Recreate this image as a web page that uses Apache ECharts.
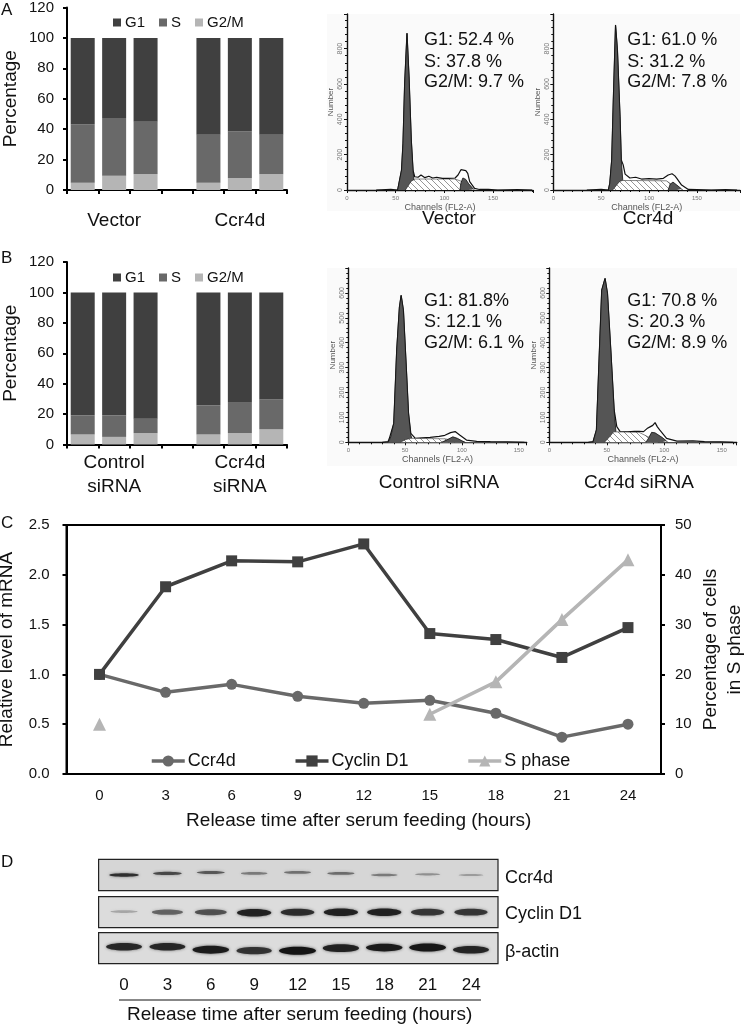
<!DOCTYPE html>
<html><head><meta charset="utf-8">
<script src="https://cdn.jsdelivr.net/npm/echarts@6/dist/echarts.min.js"></script>
<style>html,body{margin:0;padding:0;background:#fff}#c{width:745px;height:1024px}</style></head>
<body><div id="c"></div>
<script>
// Panel A / B stacked bars (blank category separates groups)
const aCats = ['', 'Vector', '', '', '', 'Ccr4d', ''];
const aG2M = [4.8, 9.4, 10.3, null, 4.8, 7.9, 10.3];
const aS   = [38.5, 37.9, 34.6, null, 31.5, 30.8, 26.0];
const aG1  = [56.7, 52.7, 55.1, null, 63.7, 61.3, 63.7];
const bCats = ['', 'Control\nsiRNA', '', '', '', 'Ccr4d\nsiRNA', ''];
const bG2M = [6.6, 5.0, 7.5, null, 6.6, 7.5, 10.0];
const bS   = [12.6, 14.2, 9.5, null, 19.0, 19.9, 19.6];
const bG1  = [80.8, 80.8, 83.0, null, 74.4, 72.6, 70.4];
// Panel C
const hours = ['0','3','6','9','12','15','18','21','24'];
const ccr4dLine = [1.0, 0.82, 0.90, 0.78, 0.71, 0.74, 0.61, 0.37, 0.50];
const cyclinLine = [1.0, 1.88, 2.14, 2.13, 2.31, 1.41, 1.35, 1.17, 1.47];
const sPhaseLine = [10, null, null, null, null, 12, 18.5, 31, 43];
// Flow histograms: [channel, count]
const f1Total = [[30,0],[45,3],[52,0],[53.4,9],[56,113],[57.5,264],[59.2,600],[61.6,887],[63.7,640],[66,283],[67.8,113],[69.5,75],[73,72],[76,85],[80,70],[84,78],[88,68],[92,72],[98,66],[104,66],[111,68],[114,85],[117,115],[119,122],[122,110],[124,94],[126,47],[131,9],[136,3],[145,4],[155,0],[175,2],[190,0]];
const f1G1 = [[52,0],[53.4,9],[56,113],[57.5,264],[59.2,600],[61.6,887],[63.7,640],[66,283],[67.8,113],[69,40],[71,0]];
const f1S = [[60,0],[66,50],[70,62],[111,62],[117,50],[122,30],[128,0]];
const f1G2 = [[116,0],[117,40],[119,68],[122,60],[125,35],[130,4],[131,0]];
const f2Total = [[35,0],[50,3],[57.5,0],[59,38],[61,170],[62.7,510],[65,934],[67,790],[69.7,415],[71,170],[73,142],[75,90],[77,95],[80,68],[86,72],[92,62],[100,64],[108,62],[115,66],[120,85],[124,92],[127,80],[129,66],[134,28],[141,3],[150,2],[165,0],[180,2],[192,0]];
const f2G1 = [[57.5,0],[59,38],[61,170],[62.7,510],[65,934],[67,790],[69.7,415],[71,170],[72.5,60],[74,0]];
const f2S = [[62,0],[69,47],[72,54],[118,52],[124,30],[130,0]];
const f2G2 = [[120,0],[122,32],[125,45],[129,28],[134,6],[135,0]];
const f3Total = [[30,0],[35,3],[36,14],[37,16],[40,76],[42.6,370],[45,543],[46.5,590],[48.5,530],[51,303],[53,116],[55,36],[59,16],[65,18],[72,20],[80,24],[85,28],[90,39],[94,43],[98,29],[104,9],[113,4],[125,3],[140,2],[155,0]];
const f3G1 = [[35,0],[37,16],[40,76],[42.6,370],[45,543],[46.5,590],[48.5,530],[51,303],[53,116],[55,30],[57,0]];
const f3S = [[46,0],[50,10],[55,16],[85,14],[95,5],[100,0]];
const f3G2 = [[82,0],[86,8],[92,22],[96,16],[100,6],[103,0]];
const f4Total = [[34,0],[38,3],[41,50],[43.6,370],[45.6,611],[48.5,658],[50.6,598],[53.5,370],[56.4,130],[58.7,63],[61.6,43],[68,42],[74,44],[78,44],[82,43],[85,55],[88,63],[90,68],[92,79],[94,62],[96,50],[102,16],[111,5],[125,6],[135,3],[149,2],[160,0]];
const f4G1 = [[38,0],[41,50],[43.6,370],[45.6,611],[48.5,658],[50.6,598],[53.5,370],[56.4,130],[58,40],[60,0]];
const f4S = [[48,0],[53,25],[56,42],[78,40],[92,8],[95,0]];
const f4G2 = [[84,0],[86,14],[89,40],[92,38],[98,20],[102,5],[103,0]];
// Flow texts
const flowA = ['G1: 52.4 %','S: 37.8 %','G2/M: 9.7 %'];
const flowB = ['G1: 61.0 %','S: 31.2 %','G2/M: 7.8 %'];
const flowC = ['G1: 81.8%','S: 12.1 %','G2/M: 6.1 %'];
const flowD = ['G1: 70.8 %','S: 20.3 %','G2/M: 8.9 %'];
// Blot lanes: band strength (0-1) and level inside the strip (0-1)
const laneHours = [0,3,6,9,12,15,18,21,24];
const ccr4dBand  = [0.85,0.7,0.62,0.42,0.48,0.5,0.42,0.28,0.2];
const cyclinBand = [0.14,0.55,0.65,0.92,0.85,0.92,0.92,0.8,0.8];
const actinBand  = [0.88,0.88,0.95,0.82,1,0.92,0.95,0.98,0.9];
const ccr4dLevel  = [0.5,0.45,0.42,0.45,0.42,0.45,0.5,0.48,0.5];
const cyclinLevel = [0.48,0.5,0.5,0.52,0.5,0.5,0.5,0.5,0.5];
const actinLevel  = [0.45,0.45,0.55,0.58,0.58,0.5,0.48,0.48,0.55];

const FF = '"Liberation Sans",Arial,sans-serif';
const DARK='#404040', MID='#696969', LIGHT='#b5b5b5';

function hatch(){
  const c=document.createElement('canvas');c.width=c.height=6;
  const g=c.getContext('2d');g.fillStyle='#fff';g.fillRect(0,0,6,6);
  g.strokeStyle='#8a8a8a';g.lineWidth=0.9;
  g.beginPath();g.moveTo(0,0);g.lineTo(6,6);g.moveTo(-3,3);g.lineTo(3,9);g.moveTo(3,-3);g.lineTo(9,3);g.stroke();
  return c;
}
const hatchImg = hatch();

const grid=[],xAxis=[],yAxis=[],series=[],legend=[],gfx=[];
function txt(t,x,y,size,align,rot,color){
  gfx.push({type:'text',x:x,y:y,rotation:rot||0,z:50,style:{text:t,font:size+'px '+FF,fill:color||'#111',textAlign:align||'left',textVerticalAlign:'middle'}});
}
function barPanel(top,cats,g2,s,g1,legendTop,catMargin){
  const gi=grid.length, xi=xAxis.length, yi=yAxis.length;
  grid.push({left:67,top:top,width:220,height:182.5,outerBoundsMode:'none'});
  xAxis.push({gridIndex:gi,type:'category',data:cats,
    axisLine:{lineStyle:{color:'#000',width:2}},axisTick:{show:true,length:4,alignWithLabel:false,interval:0,lineStyle:{color:'#000',width:2}},
    axisLabel:{interval:0,margin:catMargin,fontSize:19,fontFamily:FF,color:'#111',lineHeight:24},splitLine:{show:false}});
  yAxis.push({gridIndex:gi,type:'value',min:0,max:120,interval:20,name:'Percentage',nameLocation:'middle',nameGap:47,nameMoveOverlap:false,
    nameTextStyle:{fontSize:19,fontFamily:FF,color:'#111'},
    axisLine:{show:true,lineStyle:{color:'#000',width:2}},axisTick:{show:true,length:4,lineStyle:{color:'#000',width:2}},
    axisLabel:{fontSize:15,fontFamily:FF,color:'#111',margin:13},splitLine:{show:false}});
  [['G2/M',g2,LIGHT],['S',s,MID],['G1',g1,DARK]].forEach(d=>{
    series.push({type:'bar',name:d[0],xAxisIndex:xi,yAxisIndex:yi,stack:'s'+gi,data:d[1],barWidth:24,itemStyle:{color:d[2]}});
  });
  legend.push({left:113,top:legendTop,padding:0,data:['G1','S','G2/M'],icon:'rect',itemWidth:8,itemHeight:8,itemGap:14,selectedMode:false,
    textStyle:{fontSize:15,fontFamily:FF,color:'#111',padding:[0,0,0,-1]}});
}
barPanel(7.5,aCats,aG2M,aS,aG1,15,19);
barPanel(262,bCats,bG2M,bS,bG1,270,6);

// Panel C
(function(){
  const gi=grid.length, xi=xAxis.length;
  grid.push({left:66.5,top:525,width:594.5,height:249,outerBoundsMode:'none',show:true,borderColor:'#000',borderWidth:2,backgroundColor:'transparent'});
  xAxis.push({gridIndex:gi,type:'category',data:hours,name:'Release time after serum feeding (hours)',nameLocation:'middle',nameGap:37,
    nameTextStyle:{fontSize:19,fontFamily:FF,color:'#111',padding:[0,10,0,0]},
    axisLine:{lineStyle:{color:'#000',width:2}},axisTick:{length:4,interval:0,lineStyle:{color:'#000',width:2}},
    axisLabel:{fontSize:15,fontFamily:FF,color:'#111',margin:14},splitLine:{show:false}});
  const common={gridIndex:gi,type:'value',nameLocation:'middle',nameMoveOverlap:false,nameTextStyle:{fontSize:19,fontFamily:FF,color:'#111',lineHeight:24},
    axisLine:{show:true,lineStyle:{color:'#000',width:2}},axisTick:{show:true,length:4,lineStyle:{color:'#000',width:2}},splitLine:{show:false}};
  const left=yAxis.length;
  yAxis.push(Object.assign({},common,{min:0,max:2.5,interval:0.5,name:'Relative level of mRNA',nameGap:48,
    axisLabel:{fontSize:15,fontFamily:FF,color:'#111',margin:17,formatter:v=>v.toFixed(1)}}));
  const right=yAxis.length;
  yAxis.push(Object.assign({},common,{min:0,max:50,interval:10,position:'right',name:'Percentage of cells\nin S phase',nameGap:38,nameRotate:90,
    axisLabel:{fontSize:15,fontFamily:FF,color:'#111',margin:14}}));
  const line=(n,d,c,sym,sz,yi)=>series.push({type:'line',name:n,xAxisIndex:xi,yAxisIndex:yi,data:d,connectNulls:false,
    symbol:sym,symbolSize:sz,showAllSymbol:true,lineStyle:{color:c,width:3.5},itemStyle:{color:c}});
  line('Ccr4d',ccr4dLine,MID,'circle',11,left);
  line('Cyclin D1',cyclinLine,DARK,'rect',11,left);
  line('S phase',sPhaseLine,LIGHT,'triangle',13,right);
  legend.push({left:150,top:752,padding:0,data:['Ccr4d','Cyclin D1','S phase'],itemWidth:33,itemHeight:14,itemGap:58,selectedMode:false,
    lineStyle:{width:3.5},
    textStyle:{fontSize:18,fontFamily:FF,color:'#111',padding:[0,0,0,-2]}});
})();

// Flow panels
function flowPanel(b,total,g1,s,g2,notes,cap,notesX,notesYs,capX,capY){
  gfx.push({type:'rect',shape:{x:b.bgL,y:b.top,width:b.bgW,height:b.bgH},z:-1,style:{fill:'#fafafa'}});
  const gi=grid.length, xi=xAxis.length, yi=yAxis.length;
  grid.push({left:b.left,top:b.top,width:b.w,height:b.h,outerBoundsMode:'none'});
  xAxis.push({gridIndex:gi,type:'value',min:0,max:b.xmax,interval:50,name:'Channels (FL2-A)',nameLocation:'middle',nameGap:13,
    nameTextStyle:{fontSize:9,fontFamily:FF,color:'#555'},
    axisLine:{lineStyle:{color:'#111',width:1.4}},axisTick:{length:3,lineStyle:{color:'#111',width:1}},
    minorTick:{show:true,splitNumber:5,length:2,lineStyle:{color:'#111',width:1}},
    axisLabel:{fontSize:6,fontFamily:FF,color:'#777',margin:5,hideOverlap:true,showMaxLabel:false},splitLine:{show:false},minorSplitLine:{show:false}});
  yAxis.push({gridIndex:gi,type:'value',min:0,max:b.ymax,interval:b.yi,name:'Number',nameLocation:'middle',nameGap:12,
    nameTextStyle:{fontSize:8,fontFamily:FF,color:'#555'},
    axisLine:{show:true,lineStyle:{color:'#111',width:1.4}},axisTick:{show:true,length:3,lineStyle:{color:'#111',width:1}},
    minorTick:{show:true,splitNumber:5,length:2,lineStyle:{color:'#111',width:1}},
    axisLabel:{fontSize:7,fontFamily:FF,color:'#777',rotate:90,margin:3,showMaxLabel:false},splitLine:{show:false},minorSplitLine:{show:false}});
  const add=(d,fill,lw,z)=>series.push({type:'line',xAxisIndex:xi,yAxisIndex:yi,data:d,showSymbol:false,silent:true,z:z,
    lineStyle:{color:'#111',width:lw},areaStyle:{color:fill,opacity:1}});
  add(total,'#ffffff',1.2,2);
  add(g1,'#555555',0.8,3);
  add(s,{image:hatchImg,repeat:'repeat'},0.5,4);
  add(g2,'#555555',0.8,5);
  notes.forEach((t,i)=>txt(t,notesX,notesYs[i],18,'left'));
  txt(cap,capX,capY,19,'center');
}
flowPanel({left:347,top:14,w:186,h:176,xmax:191,ymax:996,yi:200,bgL:327,bgW:206,bgH:197},f1Total,f1G1,f1S,f1G2,flowA,'Vector',424,[40,62,82],449,219);
flowPanel({left:553.3,top:14,w:186.7,h:176,xmax:195,ymax:996,yi:200,bgL:533,bgW:207,bgH:197},f2Total,f2G1,f2S,f2G2,flowB,'Ccr4d',627.3,[40,62,82],648,219);
flowPanel({left:348.3,top:268,w:178.4,h:174.3,xmax:157,ymax:700,yi:100,bgL:327,bgW:200,bgH:198},f3Total,f3G1,f3S,f3G2,flowC,'Control siRNA',424,[301,322,343],439,483);
flowPanel({left:549.3,top:268,w:187.4,h:174.3,xmax:163,ymax:700,yi:100,bgL:527,bgW:210,bgH:198},f4Total,f4G1,f4S,f4G2,flowD,'Ccr4d siRNA',627.3,[301,322,343],639,483);

// Blot strips
function blotPanel(top,height,strength,level,label,labelY,bg,bandW,thin,thick){
  const gi=grid.length, xi=xAxis.length, yi=yAxis.length;
  grid.push({left:98.6,top:top,width:399.4,height:height,outerBoundsMode:'none',show:true,borderColor:'#222',borderWidth:1.2,backgroundColor:bg});
  xAxis.push({gridIndex:gi,type:'value',min:-1.76,max:25.87,show:false});
  yAxis.push({gridIndex:gi,type:'value',min:0,max:1,show:false,inverse:true});
  series.push({type:'custom',xAxisIndex:xi,yAxisIndex:yi,silent:true,clip:true,
    encode:{x:0,y:1},
    data:laneHours.map((h,i)=>[h,level[i],strength[i]]),
    renderItem:function(params,api){
      const p=api.coord([api.value(0),api.value(1)]), v=api.value(2);
      const g=Math.round(120-100*v);
      return {type:'ellipse',shape:{cx:p[0],cy:p[1],rx:bandW/2*(0.75+0.25*v),ry:thin+(thick-thin)*v},
        style:{fill:'rgba('+g+','+g+','+g+','+(0.35+0.65*v)+')',shadowBlur:3,shadowColor:'rgba('+g+','+g+','+g+','+(0.5*v+0.2)+')'}};
    }});
  txt(label,505,labelY,18,'left');
}
blotPanel(859.3,31.4,ccr4dBand,ccr4dLevel,'Ccr4d',878,'#d6d6d6',31,0.9,1.9);
blotPanel(896.7,31,cyclinBand,cyclinLevel,'Cyclin D1',914,'#dcdcdc',35,1,4);
blotPanel(932.7,31,actinBand,actinLevel,'β-actin',952,'#dcdcdc',37,2,4);

// Lane hour labels
(function(){
  const gi=grid.length;
  grid.push({left:102.3,top:966,width:390.6,height:8,outerBoundsMode:'none'});
  xAxis.push({gridIndex:gi,type:'category',data:hours,name:'Release time after serum feeding (hours)',nameLocation:'middle',nameGap:31,
    nameTextStyle:{fontSize:19,fontFamily:FF,color:'#111',padding:[0,0,0,4]},
    axisLine:{show:false},axisTick:{show:false},axisLabel:{fontSize:17,fontFamily:FF,color:'#111',margin:3,interval:0}});
  yAxis.push({gridIndex:gi,type:'value',show:false});
})();
gfx.push({type:'line',shape:{x1:119,y1:1000,x2:481,y2:1000},z:40,style:{stroke:'#111',lineWidth:1}});

txt('A',1,10,17);txt('B',1,258,17);txt('C',1,523,17);txt('D',1,862,17);

const chart=echarts.init(document.getElementById('c'),null,{renderer:'canvas'});
chart.setOption({animation:false,backgroundColor:'#fff',grid,xAxis,yAxis,series,legend,graphic:{elements:gfx},tooltip:{show:false}});
</script></body></html>
